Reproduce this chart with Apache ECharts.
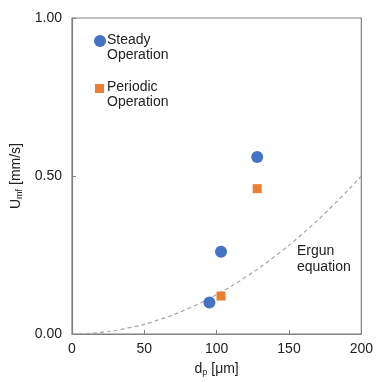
<!DOCTYPE html>
<html><head><meta charset="utf-8">
<script src="https://cdn.jsdelivr.net/npm/echarts@6/dist/echarts.min.js"></script>
<style>html,body{margin:0;padding:0;background:#fff}#c{width:376px;height:382px}</style>
</head><body><div id="c"></div>
<script>
const steadyData = [[95, 0.10], [103, 0.26], [128, 0.56]];
const periodicData = [[103, 0.12], [128, 0.46]];
const ergunX = [0, 20, 40, 60, 80, 100, 120, 140, 160, 180, 200];
const ergunY = [0, 0.005, 0.02, 0.045, 0.08, 0.125, 0.18, 0.245, 0.32, 0.405, 0.5];
const xTicks = [0, 50, 100, 150, 200];
const yTicks = [0, 0.5, 1.0];

const font = 'Liberation Sans, Arial, sans-serif';
const chart = echarts.init(document.getElementById('c'));
chart.setOption({
  animation: false,
  grid: {left: 72, right: 13, top: 18, bottom: 43, show: true, borderColor: '#808080', borderWidth: 1.2},
  xAxis: {
    type: 'value', min: 0, max: 200, interval: 50,
    axisLine: {lineStyle: {color: '#808080', width: 1.2}},
    axisTick: {inside: true, length: 4, lineStyle: {color: '#808080'}},
    splitLine: {show: false},
    axisLabel: {fontFamily: font, fontSize: 14, color: '#222', margin: 8, showMaxLabel: true},
    name: '{a|d}{s|p}{a| [μm]}', nameLocation: 'middle', nameGap: 28,
    nameTextStyle: {rich: {a: {fontFamily: font, fontSize: 14, color: '#222'}, s: {fontFamily: font, fontSize: 9, color: '#222', verticalAlign: 'bottom', padding: [6,0,0,0]}}}
  },
  yAxis: {
    type: 'value', min: 0, max: 1, interval: 0.5,
    axisLine: {show: true, lineStyle: {color: '#808080', width: 1.2}},
    axisTick: {show: true, inside: true, length: 4, lineStyle: {color: '#808080'}},
    splitLine: {show: false},
    axisLabel: {fontFamily: font, fontSize: 14, color: '#222', margin: 10, formatter: v => v.toFixed(2)},
    name: '{a|U}{s|mf}{a| [mm/s]}', nameLocation: 'middle', nameGap: 43, nameRotate: 90,
    nameTextStyle: {rich: {a: {fontFamily: font, fontSize: 14, color: '#222'}, s: {fontFamily: font, fontSize: 9, color: '#222', verticalAlign: 'bottom', padding: [6,0,0,0]}}}
  },
  legend: [
    {data: [{name: 'Steady', icon: 'circle'}], left: 94, top: 35, padding: 0, itemWidth: 12, itemHeight: 12,
     formatter: () => '', itemStyle: {opacity: 1}},
    {data: [{name: 'Periodic', icon: 'rect'}], left: 95, top: 84, padding: 0, itemWidth: 9, itemHeight: 9,
     formatter: () => '', itemStyle: {opacity: 1}}
  ],
  series: [
    {name: 'Ergun', type: 'line', smooth: true, symbol: 'none', data: ergunX.map((x, i) => [x, ergunY[i]]),
     lineStyle: {color: '#a6a6a6', width: 1.2, type: [4, 3]}, silent: true, z: 1},
    {name: 'Steady', type: 'scatter', data: steadyData, symbol: 'circle', symbolSize: 12,
     itemStyle: {color: '#4472C4', opacity: 1}, z: 3},
    {name: 'Periodic', type: 'scatter', data: periodicData, symbol: 'rect', symbolSize: 9,
     itemStyle: {color: '#ED7D31', opacity: 1}, z: 3}
  ],
  graphic: [
    {type: 'text', left: 107, top: 33, style: {text: 'Steady\nOperation', fontFamily: font, fontSize: 14, fill: '#222', lineHeight: 15}},
    {type: 'text', left: 107, top: 80, style: {text: 'Periodic\nOperation', fontFamily: font, fontSize: 14, fill: '#222', lineHeight: 15}},
    {type: 'text', left: 297, top: 243, style: {text: 'Ergun\nequation', fontFamily: font, fontSize: 14, fill: '#222', align: 'center', lineHeight: 16}}
  ]
});
</script></body></html>
